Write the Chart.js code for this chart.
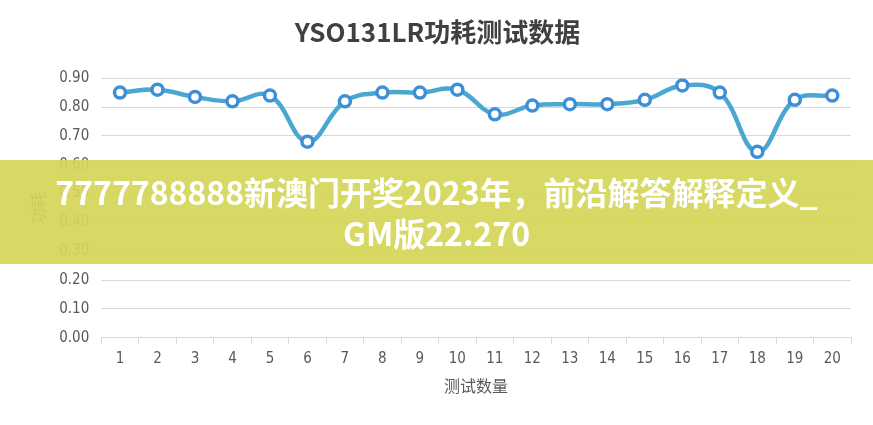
<!DOCTYPE html>
<html>
<head>
<meta charset="utf-8">
<script src="https://cdn.jsdelivr.net/npm/chart.js@4.4.0/dist/chart.umd.min.js"></script>
<style>
  html, body { margin: 0; padding: 0; background: #fff; }
  #wrap { position: relative; width: 873px; height: 425px; }
  #banner {
    position: absolute; left: 0; top: 160px; width: 873px; height: 104px;
    background: rgba(212, 214, 88, 0.93);
    color: #fff; text-align: center;
    font-family: "Noto Sans CJK SC", "Noto Sans", sans-serif;
    font-weight: bold; font-size: 32px; line-height: 41px;
    padding-top: 11px; box-sizing: border-box;
  }
</style>
</head>
<body>
<div id="wrap">
  <canvas id="chart" width="873" height="425"></canvas>
  <div id="banner">7777788888新澳门开奖2023年，前沿解答解释定义_<br>GM版22.270</div>
</div>
<script>
// 测试数据
const testNumbers = ["1","2","3","4","5","6","7","8","9","10","11","12","13","14","15","16","17","18","19","20"];
const powerValues = [0.85, 0.86, 0.835, 0.82, 0.84, 0.68, 0.82, 0.85, 0.85, 0.86,
                     0.775, 0.805, 0.81, 0.81, 0.825, 0.875, 0.85, 0.645, 0.825, 0.84];
const yTicks = [0, 0.1, 0.2, 0.3, 0.4, 0.5, 0.6, 0.7, 0.8, 0.9];

const tickFont = { family: "'Liberation Sans Narrow', 'DejaVu Sans Condensed', 'Noto Sans', sans-serif", size: 15 };
const cjkFont = "'Noto Sans CJK SC', sans-serif";

new Chart(document.getElementById("chart"), {
  type: "line",
  data: {
    labels: testNumbers,
    datasets: [{
      label: "功耗",
      data: powerValues,
      borderColor: "#4aa8d0",
      borderWidth: 4.5,
      tension: 0.4,
      pointRadius: 5.5,
      pointBorderWidth: 3.5,
      pointBorderColor: "#3f8fd6",
      pointBackgroundColor: "#fff"
    }]
  },
  options: {
    responsive: false,
    animation: false,
    layout: { padding: { left: 24, right: 22, top: 0, bottom: 25 } },
    plugins: {
      legend: { display: false },
      tooltip: { enabled: false },
      title: {
        display: true,
        text: "YSO131LR功耗测试数据",
        color: "#404040",
        font: { family: cjkFont, size: 26, weight: "bold" },
        padding: { top: 17, bottom: 30 }
      }
    },
    scales: {
      x: {
        offset: true,
        grid: { drawOnChartArea: false, drawTicks: true, tickLength: 6, color: "#d9d9d9", offset: true },
        border: { color: "#d9d9d9" },
        ticks: { color: "#595959", font: tickFont, padding: 6 },
        title: { display: true, text: "测试数量", color: "#595959", font: { family: cjkFont, size: 16 }, padding: { top: 3 } }
      },
      y: {
        min: 0,
        max: 0.9,
        afterBuildTicks: axis => { axis.ticks = yTicks.map(v => ({ value: v })); },
        grid: { color: "#d9d9d9", drawTicks: false },
        border: { display: false },
        ticks: { color: "#595959", font: tickFont, padding: 12, callback: v => v.toFixed(2) },
        title: { display: true, text: "功耗", color: "#595959", font: { family: cjkFont, size: 16 }, padding: { bottom: 0 } }
      }
    }
  }
});
</script>
</body>
</html>
